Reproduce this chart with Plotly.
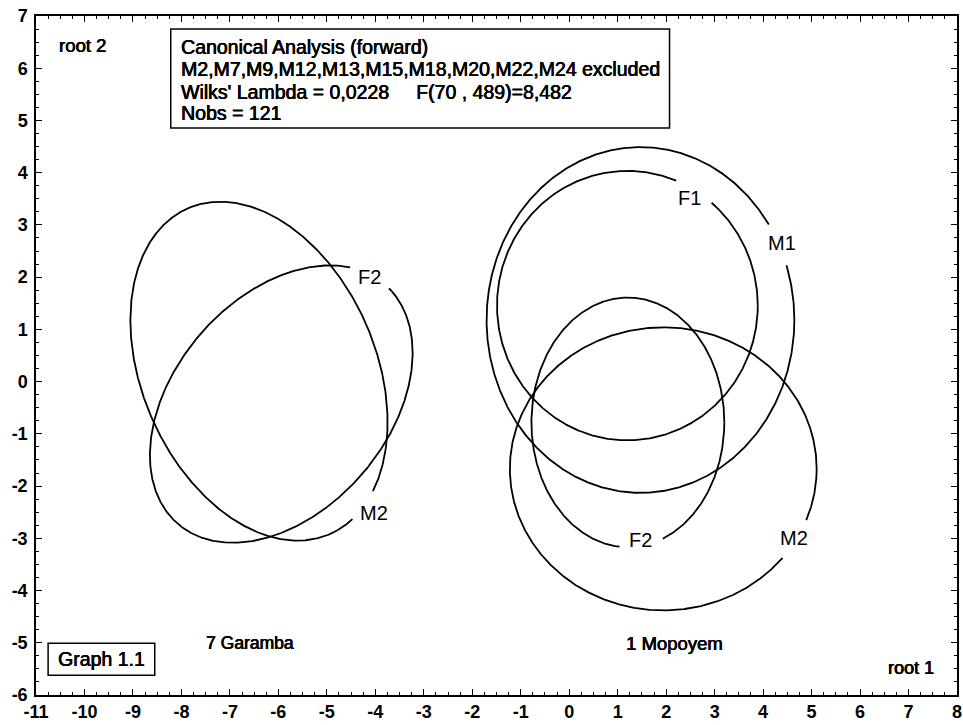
import numpy as np
import plotly.graph_objects as go

# ---------------- data ----------------
ellipse_labels = ["F2", "M2", "F1", "M1", "F2", "M2"]
center_x = [-5.94, -6.40, 1.20, 1.47, 1.21, 1.94]
center_y = [-0.43, 0.20, 1.455, 1.18, -0.78, -1.67]
semi_a = [3.14, 3.45, 2.69, 3.175, 1.99, 3.165]
semi_b = [2.13, 2.38, 2.58, 3.31, 2.39, 2.71]
angle_deg = [43.4, -62.0, 0.0, 0.0, 0.0, 0.0]
label_x = [-4.11, -4.03, 2.485, 4.38, 1.474, 4.63]
label_y = [2.00, -2.52, 3.51, 2.65, -3.04, -3.00]

group_names = ["7 Garamba", "1 Mopoyem"]
group_x = [-6.59, 2.18]
group_y = [-5.01, -5.01]

x_tickvals = list(range(-11, 9))
x_ticktext = ["-11", "-10", "-9", "-8", "-7", "-6", "-5", "-4", "-3", "-2", "-1",
              "0", "1", "2", "3", "4", "5", "6", "7", "8"]
y_tickvals = list(range(-6, 8))
y_ticktext = ["-6", "-5", "-4", "-3", "-2", "-1", "0", "1", "2", "3", "4", "5", "6", "7"]

info_lines = [
    "Canonical Analysis (forward)",
    "M2,M7,M9,M12,M13,M15,M18,M20,M22,M24 excluded",
    "Wilks' Lambda = 0,0228\u00a0\u00a0\u00a0\u00a0\u00a0F(70 , 489)=8,482",
    "Nobs = 121",
]
info_line_y = [6.406, 5.985, 5.545, 5.143]

# ---------------- figure ----------------
W, H = 963, 725
ML, MR, MT, MB = 36, 6, 16, 30
XR = (-11, 8)
YR = (-6, 7)
px_x = (W - ML - MR) / (XR[1] - XR[0])
px_y = (H - MT - MB) / (YR[1] - YR[0])
gap_px = 22
FONT = "Liberation Sans, Arial"
HEAVY = "0.45px 0 0 black, -0.2px 0 0 black"   # scanned-print heaviness


def tfont(size, bold=False, heavy=True):
    f = dict(family=FONT, size=size, color="black")
    if bold:
        f["weight"] = "bold"
    if heavy:
        f["shadow"] = HEAVY
    return f


fig = go.Figure()
t = np.linspace(0, 2 * np.pi, 1441)
for i in range(len(ellipse_labels)):
    th = np.deg2rad(angle_deg[i])
    ex = center_x[i] + semi_a[i] * np.cos(t) * np.cos(th) - semi_b[i] * np.sin(t) * np.sin(th)
    ey = center_y[i] + semi_a[i] * np.cos(t) * np.sin(th) + semi_b[i] * np.sin(t) * np.cos(th)
    d = np.hypot((ex - label_x[i]) * px_x, (ey - label_y[i]) * px_y)
    ex = np.where(d < gap_px, np.nan, ex)
    ey = np.where(d < gap_px, np.nan, ey)
    fig.add_trace(go.Scatter(x=ex, y=ey, mode="lines",
                             line=dict(color="black", width=1.8),
                             connectgaps=False, showlegend=False, hoverinfo="skip"))
    fig.add_annotation(x=label_x[i], y=label_y[i], text=ellipse_labels[i],
                       showarrow=False, xanchor="center", yanchor="middle",
                       font=tfont(20, heavy=False))

for name, gx, gy, fs in zip(group_names, group_x, group_y, [17.5, 18.5]):
    fig.add_annotation(x=gx, y=gy, text=name, showarrow=False, font=tfont(fs))

fig.add_annotation(x=-10.05, y=6.44, text="root 2", showarrow=False, font=tfont(18.5))
fig.add_annotation(x=7.06, y=-5.49, text="root 1", showarrow=False, font=tfont(18))

# info box
fig.add_shape(type="rect", xref="x", yref="y", x0=-8.22, x1=2.07, y0=4.855, y1=6.75,
              line=dict(color="black", width=1.5), fillcolor="white", layer="below")
for line, ly in zip(info_lines, info_line_y):
    fig.add_annotation(x=-8.05, y=ly, xanchor="left", yanchor="middle", align="left",
                       text=line, showarrow=False, font=tfont(19.5))

# Graph 1.1 box
fig.add_shape(type="rect", xref="x", yref="y", x0=-10.75, x1=-8.55, y0=-5.62, y1=-5.01,
              line=dict(color="black", width=1.5), fillcolor="white", layer="below")
fig.add_annotation(x=-9.65, y=-5.31, text="Graph 1.1", showarrow=False, font=tfont(19.5))

axis_common = dict(showgrid=False, zeroline=False, showline=True, linecolor="black",
                   linewidth=1.5, mirror="allticks", ticks="inside", ticklen=6,
                   tickwidth=1.3, tickcolor="black", automargin=False,
                   ticklabeloverflow="allow",
                   tickfont=tfont(18, bold=True, heavy=False),
                   minor=dict(ticks="inside", dtick=0.25, ticklen=3, tickwidth=1, tickcolor="black"))

fig.update_layout(
    width=W, height=H,
    margin=dict(l=ML, r=MR, t=MT, b=MB, pad=0),
    plot_bgcolor="white", paper_bgcolor="white",
    xaxis=dict(range=list(XR), tickmode="array", tickvals=x_tickvals, ticktext=x_ticktext,
               **axis_common),
    yaxis=dict(range=list(YR), tickmode="array", tickvals=y_tickvals, ticktext=y_ticktext,
               ticklabelstandoff=3, **axis_common),
)

# remove the browser's default 8px body margin so the figure fills the window exactly
fig.write_html("out.html", config={"displayModeBar": False},
               post_script="document.body.style.margin='0';document.body.style.overflow='hidden';")
